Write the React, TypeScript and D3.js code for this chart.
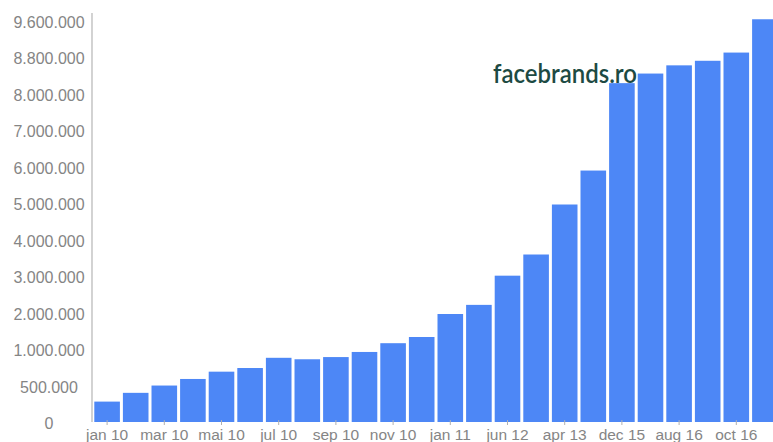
import React from "react";
import * as d3 from "d3";

const categories = [
  "jan 10", "feb 10", "mar 10", "apr 10", "mai 10", "iun 10",
  "jul 10", "aug 10", "sep 10", "oct 10", "nov 10", "dec 10",
  "jan 11", "jan 12", "jun 12", "dec 12", "apr 13", "dec 14",
  "dec 15", "apr 16", "aug 16", "sep 16", "oct 16", "dec 16",
];
const shownLabels = [
  "jan 10", "mar 10", "mai 10", "jul 10", "sep 10", "nov 10",
  "jan 11", "jun 12", "apr 13", "dec 15", "aug 16", "oct 16",
];
const users = [
  300000, 420000, 520000, 610000, 710000, 760000,
  900000, 880000, 910000, 980000, 1200000, 1370000,
  2000000, 2250000, 3050000, 3630000, 5000000, 5930000,
  8260000, 8470000, 8650000, 8750000, 8930000, 9660000,
];
const yTicks = [0, 500000, 1000000, 2000000, 3000000, 4000000, 5000000, 6000000, 7000000, 8000000, 8800000, 9600000];

const W = 773, H = 442;
const yBottom = 422, yTop = 22;

const fmt = (v: number) => v === 0 ? "0" : d3.format(",")(v).replace(/,/g, ".");

export default function App() {
  const x = d3.scaleBand<string>().domain(categories).range([91.3, 780.7]).paddingInner(0.105).paddingOuter(0.105);
  const tickPos = d3.scaleLinear().domain([0, yTicks.length - 1]).range([yBottom + 1.5, yTop]);
  const y = d3.scaleLinear().domain(yTicks).range(yTicks.map((_, i) => tickPos(i)));
  const textColor = "#858585";
  return (
    <svg width={W} height={H} style={{ position: "fixed", left: 0, top: 0, background: "#fff" }}
      fontFamily="'Liberation Sans', Arial, sans-serif">
      {categories.map((c, i) => (
        <rect key={c} x={x(c)} width={x.bandwidth()} y={y(users[i])} height={yBottom - y(users[i])} fill="#4d87f6" />
      ))}
      <line x1={92} x2={92} y1={13} y2={yBottom} stroke="#b5b5b5" strokeWidth={1.2} />
      {yTicks.map((t, i) => (
        <text key={t} x={49} y={tickPos(i)} dy="0.36em" textAnchor="middle" fontSize={16} fill={textColor}>{fmt(t)}</text>
      ))}
      {shownLabels.map((l) => {
        const cx = (x(l) as number) + x.bandwidth() / 2;
        return (
          <g key={l}>
            <line x1={cx} x2={cx} y1={yBottom - 2} y2={yBottom + 3} stroke="#b0b0b0" strokeWidth={1} />
            <text x={cx} y={440} textAnchor="middle" fontSize={15.5} fill={textColor}>{l}</text>
          </g>
        );
      })}
      <text x={493} y={83} fontSize={26} fill="#1d4a43" fontFamily="Lato, sans-serif" fontWeight={600}
        textLength={144} lengthAdjust="spacingAndGlyphs">facebrands.ro</text>
    </svg>
  );
}
